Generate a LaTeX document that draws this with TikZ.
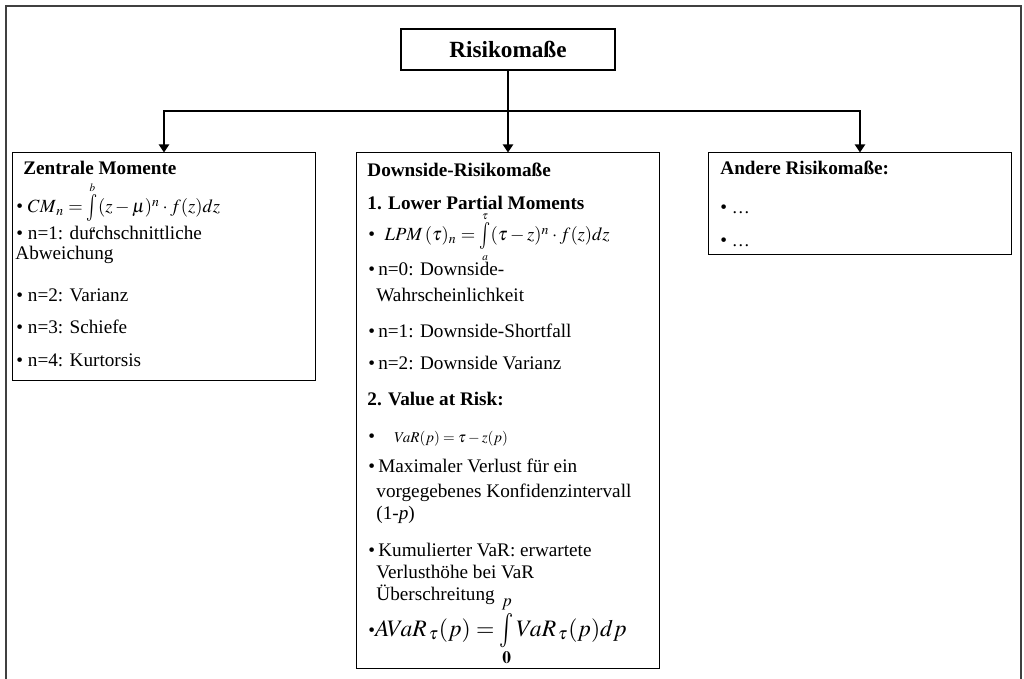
\documentclass[tikz,border=0pt]{standalone}
\usepackage{mathptmx}
\usepackage[no-math]{fontspec}
\usepackage{graphicx}
\setmainfont{Liberation Serif}
\usetikzlibrary{arrows.meta}
\newcommand{\tallint}{\mathop{\vcenter{\hbox{\scalebox{1}[1.45]{$\int$}}}}\limits}

\begin{document}
\begin{tikzpicture}[x=0.5pt,y=-0.5pt,
  box/.style={draw, line width=0.5pt, inner sep=0pt, minimum width=151.5pt},
  txt/.style={anchor=base west, inner sep=0pt, font=\fontsize{9.6}{11}\selectfont},
  hdr/.style={txt, font=\fontsize{9.6}{11}\selectfont\bfseries},
  link/.style={line width=1.2pt},
  arr/.style={link, -{Triangle[length=4pt,width=5pt]}}]
\useasboundingbox (0,0) rectangle (1024,679);
\draw[line width=1pt, black!75] (6,679) -- (6,6) -- (1021,6) -- (1021,679);

% boxes
\node[box, line width=0.7pt, minimum width=107pt, minimum height=20.5pt, font=\fontsize{11.6}{13}\selectfont\bfseries] (root) at (508,49.5) {Risikomaße};
\node[box, minimum height=114pt] (zm) at (164,267) {};
\node[box, minimum height=257.5pt] (ds) at (508,410.5) {};
\node[box, minimum height=51pt] (ar) at (860,204) {};

% connectors
\coordinate (bus) at (508,111);
\draw[link] (root) -- (bus);
\draw[arr] (bus) -| (zm);
\draw[arr] (bus) -- (ds);
\draw[arr] (bus) -| (ar);

% Zentrale Momente
\node[hdr] (zmT) at (23,175) {Zentrale Momente};
\node[txt] (zm1) at (16,213) {\textbullet\ {\fontsize{9.3}{10}\selectfont$CM_{\,n}=\tallint_{\scriptscriptstyle a}^{\scriptscriptstyle b}(z-\mu)^n\cdot f(z)dz$}};
\node[txt] (zm2) at (16,240) {\textbullet\ n=1: durchschnittliche};
\node[txt] (zm3) at (15,260) {Abweichung};
\node[txt] (zm4) at (16,302) {\textbullet\ n=2: Varianz};
\node[txt] (zm5) at (16,334) {\textbullet\ n=3: Schiefe};
\node[txt] (zm6) at (16,367) {\textbullet\ n=4: Kurtorsis};

% Downside-Risikomasse
\node[hdr] (dsT) at (367,177) {Downside-Risikomaße};
\node[hdr] (ds1) at (367,210) {1. Lower Partial Moments};
\node[txt] (ds2) at (368,241) {\textbullet\ \ {\fontsize{9.3}{10}\selectfont$LPM\,(\tau)_n=\tallint_{\scriptscriptstyle a}^{\scriptscriptstyle\tau}(\tau-z)^n\cdot f(z)dz$}};
\node[txt] (ds3) at (368,276) {\textbullet\,n=0: Downside-};
\node[txt] (ds4) at (376,302) {Wahrscheinlichkeit};
\node[txt] (ds5) at (368,338) {\textbullet\,n=1: Downside-Shortfall};
\node[txt] (ds6) at (368,370) {\textbullet\,n=2: Downside Varianz};
\node[hdr] (ds7) at (367,406) {2. Value at Risk:};
\node[txt] (ds8) at (368,443) {\textbullet\quad{\fontsize{7.5}{9}\selectfont$VaR(p)=\tau-z(p)$}};
\node[txt] (ds9) at (368,473) {\textbullet\,Maximaler Verlust für ein};
\node[txt] (ds10) at (376,498) {vorgegebenes Konfidenzintervall};
\node[txt] (ds11) at (376,520) {(1-\textit{p})};
\node[txt] (ds12) at (368,557) {\textbullet\,Kumulierter VaR: erwartete};
\node[txt] (ds13) at (376,578) {Verlusthöhe bei VaR};
\node[txt] (ds14) at (376,600) {Überschreitung};
\node[txt] (ds15) at (368,636) {\textbullet{\fontsize{11.8}{14}\selectfont$AVaR_{\,\tau}(p)=\tallint_{\mathbf{0}}^{p}VaR_{\,\tau}(p)dp$}};

% Andere Risikomasse
\node[hdr] (arT) at (720,175) {Andere Risikomaße:};
\node[txt] (ar1) at (720,214) {\textbullet\ {\small\ldots}};
\node[txt] (ar2) at (720,247) {\textbullet\ {\small\ldots}};
\end{tikzpicture}
\end{document}
